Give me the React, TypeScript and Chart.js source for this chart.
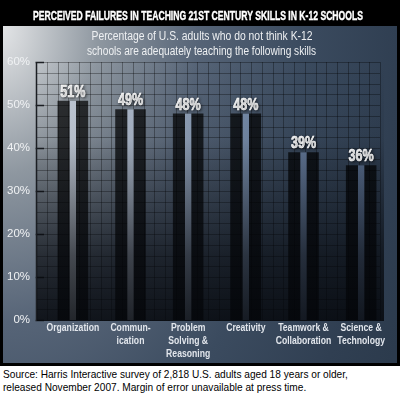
import React, { useEffect, useRef } from "react";
import { Chart, registerables } from "chart.js";

Chart.register(...registerables);

// ---------- data ----------
const titleText = "PERCEIVED FAILURES IN TEACHING 21ST CENTURY SKILLS IN K-12 SCHOOLS";
const subtitleLines = [
  "Percentage of U.S. adults who do not think K-12",
  "schools are adequately teaching the following skills",
];
const categories: string[][] = [
  ["Organization"],
  ["Commun-", "ication"],
  ["Problem", "Solving &", "Reasoning"],
  ["Creativity"],
  ["Teamwork &", "Collaboration"],
  ["Science &", "Technology"],
];
const values = [51, 49, 48, 48, 39, 36];
const yMin = 0;
const yMax = 60;
const yStep = 10;
const gridStep = 2.5;
const sourceLines = [
  "Source: Harris Interactive survey of 2,818 U.S. adults aged 18 years or older,",
  "released November 2007. Margin of error unavailable at press time.",
];

// ---------- helpers ----------
const W = 400;
const H = 366;
const SANS = '"Liberation Sans", Arial, sans-serif';
const X_LABEL_CONDENSE = 0.75;

let stripeGrad: CanvasGradient | null = null;
let stripeKey = "";

function stripeColor(c: any) {
  const chart = c.chart;
  const area = chart.chartArea;
  if (!area) return "#9aa8bc";
  const key = `${area.left}-${area.right}`;
  if (!stripeGrad || stripeKey !== key) {
    const g = chart.ctx.createLinearGradient(area.left, 0, area.right, 0);
    g.addColorStop(0, "#cdd4de");
    g.addColorStop(0.28, "#a9b6c9");
    g.addColorStop(0.45, "#8a9cb6");
    g.addColorStop(0.62, "#7187a6");
    g.addColorStop(0.8, "#617798");
    g.addColorStop(1, "#586d8d");
    stripeGrad = g;
    stripeKey = key;
  }
  return stripeGrad;
}

const backgroundPlugin = {
  id: "panelBackground",
  beforeDraw(chart: any) {
    const ctx: CanvasRenderingContext2D = chart.ctx;
    ctx.save();
    ctx.fillStyle = "#000";
    ctx.fillRect(0, 0, W, H);

    const px = 3, py = 26, pw = 394, ph = 337;
    ctx.save();
    ctx.beginPath();
    ctx.rect(px, py, pw, ph);
    ctx.clip();
    ctx.translate(0, py);
    ctx.scale(1, 1.5);
    const g = ctx.createRadialGradient(0, 0, 0, 0, 0, 450);
    g.addColorStop(0, "#e4e6e8");
    g.addColorStop(0.05, "#d2d5d8");
    g.addColorStop(0.22, "#8e97a0");
    g.addColorStop(0.44, "#566477");
    g.addColorStop(0.67, "#3b4b5f");
    g.addColorStop(0.88, "#303f52");
    g.addColorStop(1, "#2c3b4d");
    ctx.fillStyle = g;
    ctx.fillRect(0, 0, W, H);
    ctx.restore();

    // title
    ctx.fillStyle = "#ffffff";
    ctx.strokeStyle = "#ffffff";
    ctx.lineWidth = 0.4;
    ctx.textAlign = "center";
    ctx.textBaseline = "alphabetic";
    ctx.font = `bold 13px ${SANS}`;
    ctx.fillText(titleText, 198, 19.5, 330);
    ctx.strokeText(titleText, 198, 19.5, 330);

    // subtitle
    ctx.fillStyle = "#eef0f2";
    ctx.font = `12px ${SANS}`;
    ctx.fillText(subtitleLines[0], 202, 40, 221);
    ctx.fillText(subtitleLines[1], 201.5, 55, 229);
    ctx.restore();

    // condensed category labels (Chart.js ticks, drawn narrower)
    const s = chart.scales.x;
    if (s && !s.__condensed) {
      const orig = s.drawLabels;
      s.drawLabels = function (area: any) {
        const c2: any = this.ctx;
        const native = CanvasRenderingContext2D.prototype.fillText;
        c2.fillText = function (t: string, x: number, y: number, mw?: number) {
          const w = this.measureText(t).width * X_LABEL_CONDENSE;
          return native.call(this, t, x, y, mw !== undefined ? Math.min(mw, w) : w);
        };
        try {
          orig.call(this, area);
        } finally {
          delete c2.fillText;
        }
      };
      s.__condensed = true;
    }
  },
};

const gridPlugin = {
  id: "fineGrid",
  beforeDatasetsDraw(chart: any) {
    const ctx: CanvasRenderingContext2D = chart.ctx;
    const ys = chart.scales.y;
    const area = chart.chartArea;
    const left = Math.round(area.left - 8);
    const right = area.right - 10;
    const top = ys.getPixelForValue(yMax);
    const bottom = ys.getPixelForValue(yMin);
    const step = Math.abs(ys.getPixelForValue(yMin) - ys.getPixelForValue(yMin + gridStep));
    ctx.save();
    ctx.strokeStyle = "rgba(0,0,0,0.32)";
    ctx.lineWidth = 1;
    ctx.beginPath();
    for (let v = yMin; v <= yMax + 1e-6; v += gridStep) {
      const py = Math.round(ys.getPixelForValue(v)) + 0.5;
      ctx.moveTo(left, py);
      ctx.lineTo(right, py);
    }
    for (let gx = left; gx <= right + 0.5; gx += step) {
      const px = Math.round(gx) + 0.5;
      ctx.moveTo(px, top);
      ctx.lineTo(px, bottom);
    }
    ctx.stroke();

    // axis line and ticks
    ctx.strokeStyle = "#1b1e23";
    ctx.lineWidth = 1.5;
    ctx.beginPath();
    ctx.moveTo(left + 0.5, Math.round(top));
    ctx.lineTo(left + 0.5, Math.round(bottom) + 1);
    for (let v = yMin; v <= yMax + 1e-6; v += yStep) {
      const py = Math.round(ys.getPixelForValue(v)) + 0.5;
      ctx.moveTo(left - 0.5, py);
      ctx.lineTo(left + 8, py);
    }
    ctx.stroke();
    ctx.restore();
  },
  afterDatasetsDraw(chart: any) {
    const ctx: CanvasRenderingContext2D = chart.ctx;
    const ys = chart.scales.y;
    const area = chart.chartArea;
    const left = Math.round(area.left - 8);
    const top = ys.getPixelForValue(yMax);
    const bottom = ys.getPixelForValue(yMin);
    ctx.save();
    const g = ctx.createLinearGradient(0, top, 0, bottom);
    g.addColorStop(0, "rgba(4,6,10,0)");
    g.addColorStop(0.3, "rgba(4,6,10,0.08)");
    g.addColorStop(0.55, "rgba(4,6,10,0.4)");
    g.addColorStop(0.75, "rgba(4,6,10,0.66)");
    g.addColorStop(1, "rgba(4,6,10,0.84)");
    ctx.fillStyle = g;
    ctx.fillRect(left + 1, top, area.right - 6 - left - 1, bottom - top + 1);

    // value labels
    const meta = chart.getDatasetMeta(1);
    ctx.font = `bold 17px ${SANS}`;
    ctx.textAlign = "center";
    ctx.textBaseline = "alphabetic";
    ctx.fillStyle = "#ffffff";
    ctx.strokeStyle = "#ffffff";
    ctx.lineWidth = 0.6;
    ctx.shadowColor = "rgba(0,0,0,0.65)";
    ctx.shadowBlur = 3;
    ctx.shadowOffsetX = 1;
    ctx.shadowOffsetY = 1;
    meta.data.forEach((bar: any, i: number) => {
      const t = `${values[i]}%`;
      const w = ctx.measureText(t).width * 0.74;
      ctx.fillText(t, bar.x, bar.y - 4, w);
      ctx.strokeText(t, bar.x, bar.y - 4, w);
    });
    ctx.restore();
  },
};

export default function App() {
  const ref = useRef<HTMLCanvasElement>(null);
  useEffect(() => {
    if (!ref.current) return;
    const chart = new Chart(ref.current, {
      type: "bar",
      data: {
        labels: categories,
        datasets: [
          {
            label: "stripe",
            data: values,
            backgroundColor: stripeColor as any,
            borderWidth: 0,
            barPercentage: 0.11,
            categoryPercentage: 1,
            grouped: false,
            order: 1,
          },
          {
            label: "Percentage",
            data: values,
            backgroundColor: "rgba(0,0,0,0.72)",
            borderWidth: 0,
            barPercentage: 0.53,
            categoryPercentage: 1,
            grouped: false,
            order: 2,
          },
        ],
      },
      options: {
        responsive: false,
        animation: false,
        devicePixelRatio: 1,
        layout: { padding: { left: 0, right: 10, top: 62, bottom: 4 } },
        plugins: {
          legend: { display: false },
          tooltip: { enabled: false },
          title: { display: false },
        },
        scales: {
          x: {
            grid: { display: false, drawTicks: false },
            border: { display: false },
            ticks: {
              color: "#e2e6ec",
              font: { family: SANS, size: 11.5, weight: "bold", lineHeight: 1.1 },
              padding: 2,
              autoSkip: false,
              maxRotation: 0,
              minRotation: 0,
            },
            afterFit: (s: any) => {
              s.height = 42;
            },
          },
          y: {
            min: yMin,
            max: yMax,
            grid: { display: false, drawTicks: false },
            border: { display: false },
            ticks: {
              stepSize: yStep,
              callback: (v: any) => `${v}%`,
              color: "#f0f2f4",
              font: { family: SANS, size: 11.5 },
              padding: 14,
            },
            afterFit: (s: any) => {
              s.width = 44;
            },
          },
        },
      },
      plugins: [backgroundPlugin, gridPlugin],
    });
    return () => chart.destroy();
  }, []);

  return (
    <div style={{ position: "absolute", left: 0, top: 0, width: W, height: 398, background: "#fff", overflow: "hidden" }}>
      <canvas ref={ref} width={W} height={H} style={{ display: "block", width: W, height: H }} />
      <div
        style={{
          position: "absolute",
          left: 3,
          top: 368,
          font: `11px ${SANS}`,
          lineHeight: "13px",
          color: "#000",
          whiteSpace: "nowrap",
          transform: "scaleX(0.92)",
          transformOrigin: "left top",
        }}
      >
        {sourceLines.map((l, i) => (
          <div key={i}>{l}</div>
        ))}
      </div>
    </div>
  );
}
